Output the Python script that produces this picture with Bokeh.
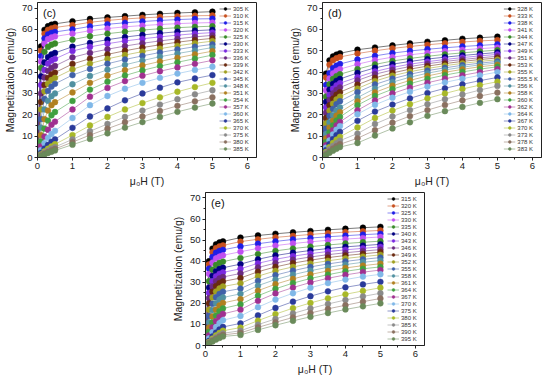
from bokeh.plotting import figure
from bokeh.models import Legend, LegendItem, Label, Range1d, FixedTicker, Spacer
from bokeh.layouts import column, row
from bokeh.embed import file_html
from bokeh.resources import INLINE

# ---------------- data ----------------
H = [0.1, 0.2, 0.3, 0.4, 0.5, 1.0, 1.5, 2.0, 2.5, 3.0, 3.5, 4.0, 4.5, 5.0]

C_T = ["305", "310", "315", "320", "325", "330", "333", "336", "339", "342", "345",
       "348", "351", "354", "357", "360", "365", "370", "375", "380", "385"]
C_M = [
    [52.0, 59.8, 61.5, 62.2, 62.6, 63.8, 64.9, 65.6, 66.2, 66.8, 67.3, 67.7, 68.0, 68.3],
    [50.0, 58.0, 59.8, 60.5, 60.9, 62.0, 63.3, 64.2, 64.9, 65.4, 65.8, 66.1, 66.4, 66.5],
    [47.5, 55.8, 57.6, 58.4, 58.8, 60.0, 61.4, 62.4, 63.1, 63.7, 64.2, 64.6, 64.9, 65.0],
    [45.0, 53.3, 55.4, 56.2, 56.7, 58.0, 59.4, 60.4, 61.2, 61.8, 62.3, 62.7, 63.0, 63.2],
    [42.0, 49.5, 51.8, 52.8, 53.4, 55.2, 56.8, 58.0, 58.9, 59.7, 60.3, 60.8, 61.2, 61.5],
    [38.0, 44.5, 47.0, 48.3, 49.0, 51.9, 53.7, 55.2, 56.4, 57.4, 58.2, 58.9, 59.4, 59.8],
    [34.0, 41.0, 44.0, 45.4, 46.2, 49.9, 51.8, 53.3, 54.6, 55.6, 56.5, 57.3, 58.0, 58.5],
    [30.0, 37.5, 40.6, 42.0, 42.9, 46.9, 49.0, 50.7, 52.2, 53.5, 54.6, 55.6, 56.5, 57.2],
    [26.0, 34.0, 37.3, 38.9, 39.8, 43.8, 46.3, 48.3, 50.0, 51.5, 52.8, 54.0, 55.0, 55.8],
    [22.5, 31.0, 34.5, 36.3, 37.3, 41.3, 44.0, 46.2, 48.0, 49.6, 51.0, 52.3, 53.5, 54.5],
    [18.0, 27.5, 31.2, 33.2, 34.5, 38.6, 41.5, 43.9, 45.9, 47.6, 49.2, 50.6, 51.9, 53.0],
    [14.0, 22.5, 26.5, 28.7, 30.0, 34.3, 38.2, 41.1, 43.4, 45.4, 47.2, 48.7, 50.1, 51.5],
    [10.5, 18.0, 22.0, 24.5, 25.9, 30.5, 35.0, 38.3, 40.9, 43.1, 45.0, 46.7, 48.3, 49.8],
    [7.5, 13.5, 17.3, 19.8, 21.3, 26.5, 31.8, 35.5, 38.4, 40.8, 42.8, 44.6, 46.3, 48.0],
    [5.2, 9.8, 13.0, 15.3, 16.8, 22.5, 28.5, 32.6, 35.8, 38.3, 40.4, 42.2, 43.9, 45.5],
    [3.5, 6.7, 9.2, 11.0, 12.5, 18.5, 24.5, 28.8, 32.2, 35.0, 37.3, 39.3, 41.0, 42.5],
    [2.2, 4.2, 5.9, 7.3, 8.5, 13.9, 19.2, 23.0, 26.8, 30.0, 32.7, 35.2, 37.0, 38.6],
    [1.5, 2.9, 4.1, 5.2, 6.2, 10.5, 15.0, 19.0, 22.5, 25.5, 28.2, 30.8, 33.0, 35.0],
    [1.1, 2.2, 3.2, 4.1, 4.9, 8.5, 12.3, 15.7, 19.0, 22.0, 24.8, 27.3, 29.6, 31.5],
    [0.9, 1.8, 2.6, 3.3, 4.0, 7.2, 10.5, 13.5, 16.5, 19.2, 21.8, 24.2, 26.3, 28.2],
    [0.7, 1.4, 2.1, 2.7, 3.3, 6.0, 8.7, 11.3, 14.0, 16.6, 19.0, 21.4, 23.4, 25.3],
]

D_T = ["328", "333", "338", "341", "344", "347", "349", "351", "353", "355", "355.5",
       "356", "358", "360", "362", "364", "367", "370", "373", "378", "383"]
D_M = [
    [39.3, 45.5, 47.3, 48.2, 48.8, 50.5, 51.5, 52.5, 53.4, 54.2, 54.9, 55.6, 56.1, 56.6],
    [37.5, 43.5, 45.5, 46.5, 47.1, 48.7, 50.0, 51.1, 52.0, 52.8, 53.5, 54.1, 54.6, 55.0],
    [34.0, 39.5, 41.8, 43.0, 43.8, 45.9, 47.6, 48.9, 49.9, 50.7, 51.4, 52.0, 52.5, 53.0],
    [31.5, 37.0, 39.4, 40.6, 41.4, 43.7, 45.6, 47.0, 48.1, 49.0, 49.8, 50.4, 51.0, 51.5],
    [28.5, 34.3, 36.8, 38.1, 39.0, 41.4, 43.6, 45.2, 46.4, 47.4, 48.3, 49.0, 49.7, 50.3],
    [26.0, 31.8, 34.5, 35.9, 36.8, 39.6, 42.0, 43.7, 45.0, 46.1, 47.0, 47.8, 48.5, 49.2],
    [23.5, 29.3, 32.2, 33.8, 34.8, 37.6, 40.3, 42.2, 43.7, 44.9, 45.9, 46.8, 47.6, 48.3],
    [21.0, 27.0, 30.0, 31.7, 32.8, 36.1, 39.0, 41.0, 42.6, 43.9, 45.0, 45.9, 46.7, 47.4],
    [18.5, 24.5, 27.6, 29.4, 30.6, 34.1, 37.3, 39.6, 41.4, 42.8, 44.0, 45.0, 45.9, 46.6],
    [16.0, 22.0, 25.2, 27.2, 28.5, 32.3, 35.8, 38.3, 40.2, 41.7, 43.0, 44.1, 45.0, 45.8],
    [13.5, 19.5, 22.8, 25.0, 26.4, 30.6, 34.2, 36.9, 39.0, 40.7, 42.0, 43.2, 44.2, 45.0],
    [11.0, 16.5, 19.8, 22.0, 23.5, 28.1, 32.3, 35.3, 37.6, 39.5, 41.0, 42.3, 43.4, 44.3],
    [9.0, 14.0, 17.3, 19.6, 21.2, 26.3, 30.5, 33.6, 36.1, 38.2, 39.9, 41.3, 42.5, 43.4],
    [7.2, 11.8, 15.0, 17.3, 19.0, 24.5, 28.8, 32.0, 34.6, 36.8, 38.6, 40.1, 41.4, 42.5],
    [5.8, 9.8, 12.8, 15.0, 16.7, 22.1, 26.7, 30.0, 32.7, 35.0, 36.9, 38.5, 40.0, 41.4],
    [4.6, 8.0, 10.8, 13.0, 14.7, 20.3, 24.7, 28.0, 30.8, 33.2, 35.2, 36.9, 38.5, 40.0],
    [3.5, 6.3, 8.6, 10.5, 12.0, 17.2, 21.5, 24.8, 27.7, 30.2, 32.4, 34.3, 36.0, 37.5],
    [2.6, 4.9, 6.8, 8.4, 9.7, 14.1, 18.5, 22.0, 25.0, 27.7, 30.0, 32.1, 33.9, 35.5],
    [2.0, 3.8, 5.4, 6.7, 7.9, 11.2, 15.7, 19.2, 22.2, 25.0, 27.3, 29.5, 31.6, 33.5],
    [1.5, 2.9, 4.2, 5.3, 6.2, 9.0, 12.8, 16.3, 19.4, 22.2, 24.6, 26.8, 28.8, 30.4],
    [1.1, 2.2, 3.2, 4.1, 4.9, 6.8, 10.3, 13.6, 16.5, 19.5, 21.7, 23.7, 25.6, 27.3],
]

E_T = ["315", "320", "325", "330", "335", "340", "343", "346", "349", "352", "355",
       "358", "361", "364", "367", "370", "375", "380", "385", "390", "395"]
E_M = [
    [40.0, 46.0, 48.0, 48.9, 49.4, 51.2, 52.2, 53.0, 53.7, 54.3, 54.9, 55.4, 55.9, 56.3],
    [38.5, 44.3, 46.2, 47.0, 47.5, 49.3, 50.4, 51.3, 52.0, 52.7, 53.3, 53.8, 54.2, 54.6],
    [36.5, 42.0, 44.0, 44.9, 45.4, 47.0, 48.3, 49.4, 50.3, 51.0, 51.6, 52.1, 52.6, 53.0],
    [34.0, 39.3, 41.3, 42.2, 42.8, 44.5, 46.1, 47.4, 48.4, 49.2, 49.9, 50.5, 51.0, 51.5],
    [30.5, 36.0, 38.2, 39.2, 39.8, 41.5, 43.4, 44.9, 46.0, 46.9, 47.7, 48.4, 49.0, 49.5],
    [27.5, 33.0, 35.2, 36.3, 36.9, 38.6, 40.9, 42.7, 44.0, 45.1, 46.0, 46.8, 47.4, 48.0],
    [25.0, 30.5, 32.8, 34.0, 34.7, 36.4, 39.0, 40.9, 42.4, 43.6, 44.6, 45.4, 46.1, 46.8],
    [22.5, 28.0, 30.5, 31.8, 32.5, 34.2, 37.0, 39.1, 40.7, 42.0, 43.1, 44.0, 44.8, 45.5],
    [20.0, 25.5, 28.2, 29.6, 30.4, 32.0, 35.0, 37.3, 39.1, 40.5, 41.7, 42.7, 43.5, 44.3],
    [17.0, 22.8, 25.6, 27.1, 28.0, 29.5, 32.9, 35.4, 37.3, 38.9, 40.2, 41.3, 42.2, 43.0],
    [14.0, 19.8, 22.9, 24.5, 25.5, 27.0, 30.7, 33.4, 35.5, 37.3, 38.7, 39.9, 40.9, 41.7],
    [11.0, 16.8, 20.0, 21.8, 22.8, 24.5, 28.4, 31.3, 33.6, 35.5, 37.1, 38.4, 39.5, 40.3],
    [8.5, 13.8, 17.0, 19.0, 20.2, 22.0, 26.0, 29.1, 31.6, 33.7, 35.4, 36.8, 37.9, 38.8],
    [6.5, 11.0, 14.2, 16.3, 17.6, 19.5, 23.6, 26.9, 29.6, 31.8, 33.6, 35.2, 36.4, 37.3],
    [4.8, 8.6, 11.5, 13.6, 15.0, 17.0, 21.2, 24.7, 27.5, 29.9, 31.9, 33.5, 34.8, 35.8],
    [3.4, 6.3, 8.7, 10.6, 12.0, 14.0, 18.2, 21.8, 24.8, 27.4, 29.6, 31.3, 32.7, 33.8],
    [2.2, 4.3, 6.1, 7.6, 8.8, 10.5, 14.3, 17.8, 20.8, 23.4, 25.7, 27.6, 29.0, 30.2],
    [1.7, 3.3, 4.8, 6.0, 7.0, 8.5, 11.8, 14.9, 17.7, 20.2, 22.4, 24.3, 25.9, 27.4],
    [1.4, 2.7, 3.9, 4.9, 5.8, 7.0, 9.9, 12.6, 15.2, 17.6, 19.7, 21.6, 23.3, 24.8],
    [1.2, 2.3, 3.3, 4.2, 5.0, 6.0, 8.6, 11.0, 13.3, 15.4, 17.4, 19.1, 20.8, 22.3],
    [1.0, 1.9, 2.8, 3.6, 4.3, 5.0, 7.4, 9.6, 11.7, 13.6, 15.4, 17.1, 18.6, 20.0],
]

COLORS = ["#000000", "#C8501E", "#1E1EE6", "#C050F0", "#3A8A2A", "#000080", "#7A2AE0",
          "#6A2A80", "#6A2A10", "#A0A020", "#4060A8", "#5090A0", "#B08020", "#40A040",
          "#A03090", "#80B8E8", "#2A3A9A", "#A8B828", "#8A8A8A", "#8A7060", "#6A8A5A"]

FONT = "Liberation Sans"


def panel(tag, temps, mags, border_left, border_right, border_top, frame_h):
    p = figure(frame_width=219, frame_height=frame_h,
               x_range=Range1d(0, 6.26), y_range=Range1d(0, 72.6),
               output_backend="svg", toolbar_location=None,
               min_border_left=border_left, min_border_right=border_right,
               min_border_top=border_top, min_border_bottom=0,
               background_fill_color="white", border_fill_color="white")
    p.grid.visible = False
    p.outline_line_color = "#222222"
    p.outline_line_width = 1
    for ax in (p.xaxis[0], p.yaxis[0]):
        ax.axis_line_color = "#222222"
        ax.major_tick_line_color = "#222222"
        ax.minor_tick_line_color = "#222222"
        ax.major_tick_out = 3
        ax.major_tick_in = 0
        ax.minor_tick_out = 2
        ax.minor_tick_in = 0
        ax.major_label_text_font = FONT
        ax.major_label_text_font_size = "9.5px"
        ax.major_label_text_color = "#222222"
        ax.axis_label_text_font = FONT
        ax.axis_label_text_font_size = "10.5px"
        ax.axis_label_text_font_style = "normal"
        ax.axis_label_text_color = "#222222"
        ax.major_label_standoff = 2
        ax.axis_label_standoff = 3
    p.xaxis.ticker = FixedTicker(ticks=[0, 1, 2, 3, 4, 5, 6],
                                 minor_ticks=[0.5, 1.5, 2.5, 3.5, 4.5, 5.5])
    p.yaxis.ticker = FixedTicker(ticks=[0, 10, 20, 30, 40, 50, 60, 70],
                                 minor_ticks=[5, 15, 25, 35, 45, 55, 65])
    p.xaxis.axis_label = "μ₀H (T)"
    p.yaxis.axis_label = "Magnetization (emu/g)"

    items = []
    for i, (t, m) in enumerate(zip(temps, mags)):
        c = COLORS[i]
        ln = p.line([0.0] + H, [0.0] + m, line_color=c, line_width=0.7, line_alpha=0.75)
        sc = p.scatter(H, m, size=5.8, marker="circle", fill_color=c,
                       line_color=c, line_width=0.5)
        items.append(LegendItem(label=f"{t} K", renderers=[ln, sc]))

    leg = Legend(items=items, location="top_right",
                 label_text_font=FONT, label_text_font_size="6px",
                 label_text_color="#333333", label_height=7, glyph_height=7,
                 glyph_width=12, spacing=0, padding=0, margin=3,
                 label_standoff=2, border_line_alpha=0, background_fill_alpha=0)
    p.add_layout(leg)

    p.add_layout(Label(x=0.16, y=67.5, text=tag, text_font=FONT,
                       text_font_size="11px", text_color="#111111",
                       text_baseline="middle"))
    return p


pc = panel("(c)", C_T, C_M, 28, 21, 2, 155)
pd_ = panel("(d)", D_T, D_M, 45, 1, 2, 155)
pe = panel("(e)", E_T, E_M, 28, 21, 3, 153)

layout = column(row(pc, pd_), row(Spacer(width=168, height=10), pe))

open("out.html", "w").write(file_html(layout, INLINE))
